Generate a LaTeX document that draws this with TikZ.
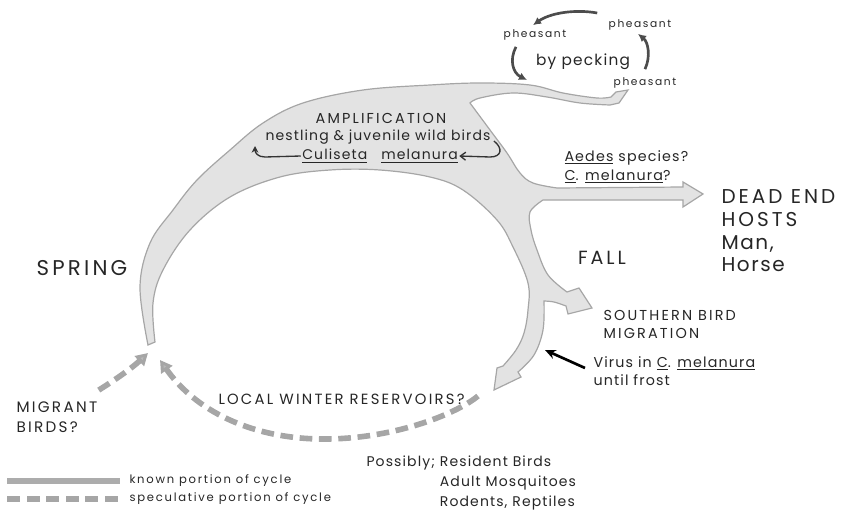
\documentclass[tikz,border=0pt]{standalone}
\usepackage{fontspec}
\setmainfont{Poppins}
\newfontfamily\capfont[LetterSpace=15]{Poppins}
\newfontfamily\txtfont[LetterSpace=8]{Poppins}
\newfontfamily\smallfont[LetterSpace=15]{Poppins}
\usetikzlibrary{arrows.meta,calc}
\tikzset{every picture/.style={line width=0.75pt}}
\tikzset{
  band/.style={fill=gray!22, draw=gray!70, line width=0.9pt},
  cyc/.style={draw=black!70, line width=2pt, -{Latex[length=6pt,width=6pt]}},
  spec/.style={draw=gray!70, line width=4.2pt, dash pattern=on 9.5pt off 5pt},
  spechead/.style={-{Triangle[length=9pt,width=10pt,fill=gray!55]}},
  txt/.style={inner sep=0.75pt, text=black!85}
}

\begin{document}
\begin{tikzpicture}[x=0.75pt,y=0.75pt,yscale=-1,xscale=1]
\useasboundingbox (0,0) rectangle (850,521);

%Shape: cycle band [id:band]
\filldraw [band] (148,345)
  -- plot [smooth, tension=0.6] coordinates {(148,345) (140,287) (150,243) (173,210) (197,180) (230,150) (263,123) (303,103) (363,90) (430,85) (480,83) (530,85) (563,93) (597,98) (611,97)}
  -- (616,92) -- (628,90) -- (619,103)
  -- plot [smooth, tension=0.6] coordinates {(610,105) (580,103) (547,97) (513,93) (480,98) (470,103)}
  -- plot [smooth, tension=0.6] coordinates {(470,103) (490,130) (507,153) (520,173) (533,183) (557,188)}
  -- (683,187) -- (683,182) -- (703,194) -- (683,207) -- (683,200) -- (543,200)
  -- plot [smooth, tension=0.6] coordinates {(543,200) (530,212) (531,230) (537,250) (548,275) (567,292)}
  -- (579,288) -- (592,308) -- (568,314) -- (566,306)
  -- plot [smooth, tension=0.6] coordinates {(566,306) (554,302) (544,301)}
  -- plot [smooth, tension=0.6] coordinates {(544,301) (543,330) (534,355) (518,372)}
  -- (521,377) -- (494,390) -- (497,368) -- (503,366)
  -- plot [smooth, tension=0.6] coordinates {(503,366) (516,350) (524,333) (528,310) (528,283) (513,247) (497,220) (463,190) (430,177) (380,170) (330,170) (280,177) (230,197) (190,230) (163,270) (153,303) (155,342)}
  -- cycle ;

% Text Node
\draw (535,35) node [txt] [font=\smallfont\fontsize{8}{10}\selectfont] (ph1) {pheasant};
% Text Node
\draw (640,25) node [txt] [font=\smallfont\fontsize{8}{10}\selectfont] (ph2) {pheasant};
% Text Node
\draw (645,83) node [txt] [font=\smallfont\fontsize{8}{10}\selectfont] (ph3) {pheasant};
% Text Node
\draw (583,62) node [txt] [font=\txtfont\fontsize{11.5}{12}\selectfont] (peck) {by pecking};

%Curve Lines [id:pheasant cycle]
\draw [cyc] ($(ph2.west)+(-10,-12)$) .. controls (575,9) and (550,13) .. ($(ph1.north)+(-2,-3)$) ;
\draw [cyc] ($(ph1.south)+(-19,5)$) .. controls (509,60) and (513,73) .. (527,80) ;
\draw [cyc] ($(ph3.north)+(0,-7)$) .. controls (651,56) and (648,42) .. ($(ph2.south)+(-2,2)$) ;

% Text Node
\draw (381,118) node [txt] [font=\capfont\fontsize{10.8}{12}\selectfont] (amp) {AMPLIFICATION};
% Text Node
\draw (378,137) node [txt] [font=\txtfont\fontsize{10.5}{12}\selectfont] (nest) {nestling \& juvenile wild birds};
% Text Node
\draw (380,156) node [txt] [font=\txtfont\fontsize{10.5}{12}\selectfont] (culi) {\underline{Culiseta}\quad\underline{melanura}};

%Curve Lines [id:amplification arrows]
\draw [black!80, line width=1pt, -{Stealth[length=5pt,width=5pt]}] (culi.west) -- (265,157) .. controls (258,157) and (255,153) .. (255,146) ;
\draw [black!80, line width=1pt, -{Straight Barb[length=4pt,width=6pt]}] ($(nest.east)+(2,4)$) .. controls (503,148) and (502,157) .. (490,157) -- (culi.east) ;

% Text Node
\draw (563,167) node [txt, anchor=west, align=left] [font=\txtfont\fontsize{10.7}{14}\selectfont] (aedes) {\underline{Aedes} species?\\\underline{C}. \underline{melanura}?};
% Text Node
\draw (720,231) node [txt, anchor=west, align=left] [font=\txtfont\fontsize{15}{17}\selectfont] (dead) {{\capfont DEAD END}\\{\capfont HOSTS}\\Man,\\Horse};
% Text Node
\draw (602,258) node [txt] [font=\capfont\fontsize{14.3}{15}\selectfont] (fall) {FALL};
% Text Node
\draw (82,268) node [txt] [font=\capfont\fontsize{16}{17}\selectfont] (spring) {SPRING};
% Text Node
\draw (602,324) node [txt, anchor=west, align=left] [font=\capfont\fontsize{10.8}{13.5}\selectfont] (south) {SOUTHERN BIRD\\MIGRATION};
% Text Node
\draw (592,371) node [txt, anchor=west, align=left] [font=\txtfont\fontsize{10.7}{13.5}\selectfont] (virus) {Virus in \underline{C}. \underline{melanura}\\until frost};

%Straight Lines [id:virus arrow]
\coordinate (vtip) at (545,350);
\draw [black, line width=2pt, -{Stealth[length=8pt,width=7pt]}] ($(virus.north west)+(-7,13)$) -- (vtip) ;

% Text Node
\draw (15,417) node [txt, anchor=west, align=left] [font=\capfont\fontsize{11.4}{15}\selectfont] (migrant) {MIGRANT\\BIRDS?};
% Text Node
\draw (217,399) node [txt, anchor=west] [font=\capfont\fontsize{11.1}{12}\selectfont] (local) {LOCAL WINTER RESERVOIRS?};
% Text Node
\draw (365,482) node [txt, anchor=west, align=left] [font=\txtfont\fontsize{10.5}{15}\selectfont] (poss) {\begin{tabular}{@{}l@{ }l@{}}Possibly; &Resident Birds\\ &Adult Mosquitoes\\ &Rodents, Reptiles\end{tabular}};

%Curve Lines [id:speculative paths]
\coordinate (mouth) at (160,360);
\coordinate (mtip) at (148,353);
\draw [spec, spechead] ($(local.east)+(12,-3)$) .. controls (455,415) and (390,440) .. (320,439) .. controls (250,438) and (195,410) .. (mouth) ;
\draw [spec, spechead] ($(migrant.north east)+(0,-10)$) .. controls (115,380) and (132,368) .. (mtip) ;

%Shape: legend
\fill [gray!65] (7,478) rectangle (120,484) ;
\foreach \i in {0,...,5} {
  \fill [gray!70] (7+\i*19.6,496) rectangle ++(13,6) ;
}
% Text Node
\draw (128,481) node [txt, anchor=west] [font=\smallfont\fontsize{8.7}{9}\selectfont] (known) {known portion of cycle};
% Text Node
\draw (128,499) node [txt, anchor=west] [font=\smallfont\fontsize{8.7}{9}\selectfont] (specl) {speculative portion of cycle};

\end{tikzpicture}
\end{document}
